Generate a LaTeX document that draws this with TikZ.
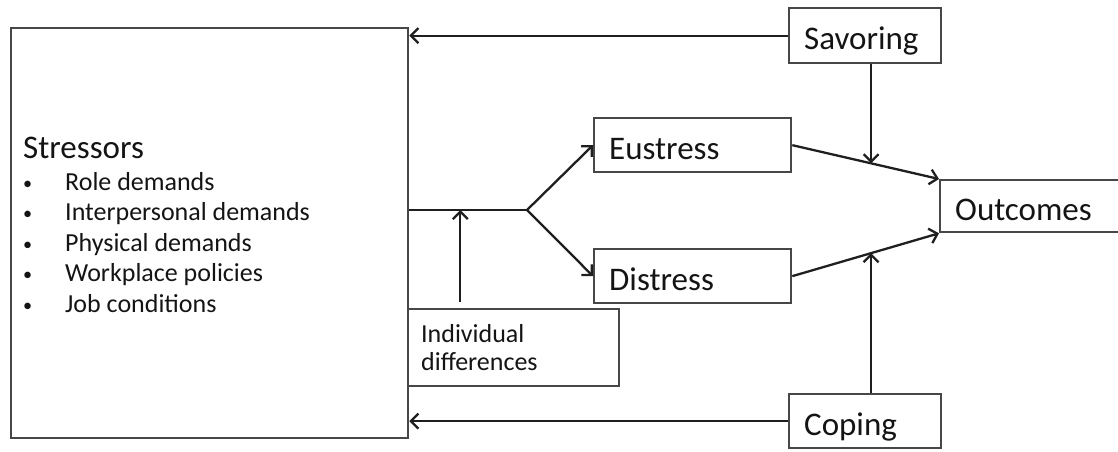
\documentclass[tikz,border=0pt]{standalone}
\usepackage{fontspec}
\setmainfont{Carlito}
\usetikzlibrary{arrows.meta,calc}

\newcommand{\headfont}{\fontsize{33}{36}\selectfont}
\newcommand{\itemfont}{\fontsize{26}{28}\selectfont}

\tikzset{
  box/.style={draw=black!72, line width=2.3pt, rectangle, anchor=north west,
    inner ysep=0pt, align=left, text=black!92},
  lbl/.style={box, font=\headfont, inner xsep=15pt, text height=28pt, text depth=0pt},
  txt/.style={inner sep=0pt, anchor=base west, text=black!92},
  conn/.style={draw=black!88, line width=2.3pt},
  arr/.style={conn, -{Straight Barb[length=7.5pt,width=15pt,line width=2.3pt]}}
}

\begin{document}
\begin{tikzpicture}[x=1pt,y=-1pt]
  \useasboundingbox (0,0) rectangle (1118,451);

  % boxes
  \node[box, minimum width=397pt, minimum height=410pt, inner sep=0pt] (str) at (10,27) {};
  \node[lbl, text width=122pt, minimum height=55pt] (sav) at (788,7) {Savoring};
  \node[lbl, text width=167pt, minimum height=54pt] (eus) at (593,117) {Eustress};
  \node[lbl, text width=167pt, minimum height=54pt] (dis) at (593,248) {Distress};
  \node[lbl, text width=165pt, minimum height=52pt] (out) at (939,179) {Outcomes};
  \node[lbl, text width=122pt, minimum height=54pt] (cop) at (788,393) {Coping};
  \node[box, font=\itemfont, inner xsep=13pt, text width=185pt, minimum height=77pt] (ind)
    at (407,308) {Individual\\differences};

  % stressor list
  \node[txt, font=\headfont] (stitle) at ($(str.north west)+(13,131)$) {Stressors};
  \foreach \t [count=\i] in {Role demands, Interpersonal demands, Physical demands,
      Workplace policies, Job conditions}
    \node[txt, font=\itemfont] (item\i) at ($(stitle.base west)+(0,{32+30.6*(\i-1)})$)
      {\makebox[42pt][l]{\raisebox{1pt}{\scalebox{0.7}{•}}}\t};

  % connectors
  \coordinate (fork) at (527,210);
  \draw[conn] (fork -| str.east) -- (fork);
  \draw[arr] (fork) -- (eus.west);
  \draw[arr] (fork) -- (dis.west);
  \coordinate (indtop) at ($(ind.north west)!0.25!(ind.north east)+(0,-6)$);
  \draw[arr] (indtop) -- (indtop |- fork);

  \draw[arr] (sav.west) -- (sav.west -| str.east);
  \draw[arr] (cop.west) -- (cop.west -| str.east);

  \draw[arr] (eus.east) -- (out.north west);
  \draw[arr] (dis.east) -- (out.south west);
  \coordinate (m1) at ($(eus.east)!0.537!(out.north west)$);
  \coordinate (m2) at ($(dis.east)!0.537!(out.south west)$);
  \draw[arr] (m1 |- sav.south) -- (m1);
  \draw[arr] (m2 |- cop.north) -- (m2);
\end{tikzpicture}
\end{document}
